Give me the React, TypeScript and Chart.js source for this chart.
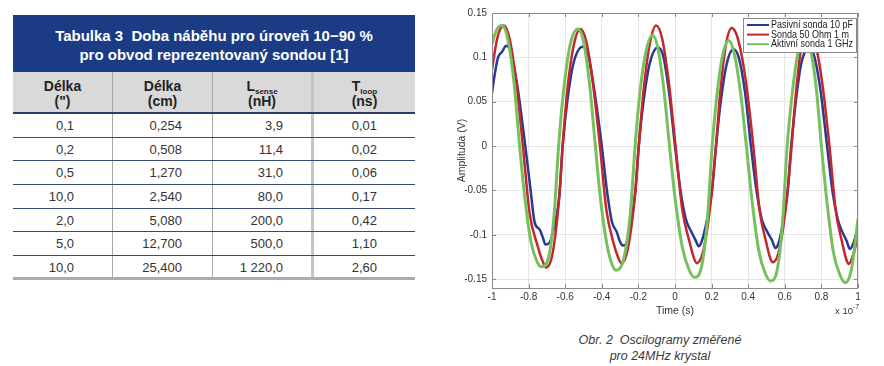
import React, { useEffect, useRef } from "react";
import { Chart, registerables } from "chart.js";

Chart.register(...registerables);

// ---------- table data ----------
const tableTitle = ["Tabulka 3  Doba náběhu pro úroveň 10−90 %", "pro obvod reprezentovaný sondou [1]"];
const colLengthIn = ["0,1", "0,2", "0,5", "10,0", "2,0", "5,0", "10,0"];
const colLengthCm = ["0,254", "0,508", "1,270", "2,540", "5,080", "12,700", "25,400"];
const colLsense = ["3,9", "11,4", "31,0", "80,0", "200,0", "500,0", "1 220,0"];
const colTloop = ["0,01", "0,02", "0,06", "0,17", "0,42", "1,10", "2,60"];

// ---------- chart data (time in 1e-7 s, amplitude in V) ----------
const seriesLabels = ["Pasivní sonda 10 pF", "Sonda 50 Ohm 1 m", "Aktivní sonda 1 GHz"];

const bluePoints: [number, number][] = [
  [-1, 0.06], [-0.985, 0.081], [-0.967, 0.1], [-0.946, 0.106], [-0.922, 0.113], [-0.895, 0.104], [-0.858, 0.063],
  [-0.818, 0], [-0.79, -0.048], [-0.767, -0.086], [-0.74, -0.094], [-0.722, -0.103], [-0.708, -0.111], [-0.686, -0.109],
  [-0.668, -0.098], [-0.632, -0.056], [-0.614, 0], [-0.59, 0.048], [-0.555, 0.093], [-0.504, 0.112], [-0.475, 0.103],
  [-0.44, 0.062], [-0.4, 0], [-0.372, -0.05], [-0.345, -0.085], [-0.318, -0.097], [-0.3, -0.108], [-0.285, -0.112],
  [-0.268, -0.111], [-0.255, -0.1], [-0.218, -0.054], [-0.198, 0], [-0.172, 0.05], [-0.138, 0.093], [-0.094, 0.111],
  [-0.065, 0.102], [-0.032, 0.06], [0, 0], [0.03, -0.05], [0.06, -0.083], [0.088, -0.096], [0.112, -0.106], [0.13, -0.113],
  [0.145, -0.108], [0.16, -0.097], [0.2, -0.054], [0.224, 0], [0.25, 0.05], [0.282, 0.092], [0.319, 0.109], [0.348, 0.1],
  [0.383, 0.06], [0.415, 0], [0.445, -0.05], [0.475, -0.083], [0.505, -0.097], [0.53, -0.106], [0.549, -0.115],
  [0.563, -0.111], [0.578, -0.099], [0.614, -0.054], [0.635, 0], [0.66, 0.05], [0.69, 0.093], [0.73, 0.11], [0.76, 0.102],
  [0.797, 0.06], [0.831, 0], [0.86, -0.05], [0.89, -0.083], [0.915, -0.097], [0.938, -0.107], [0.955, -0.116],
  [0.97, -0.112], [0.985, -0.103], [1, -0.094],
];

const redPoints: [number, number][] = [
  [-1, 0.086], [-0.975, 0.118], [-0.955, 0.132], [-0.936, 0.136], [-0.905, 0.122], [-0.868, 0.073], [-0.831, 0],
  [-0.795, -0.075], [-0.75, -0.113], [-0.723, -0.13], [-0.704, -0.137], [-0.668, -0.12], [-0.632, -0.056], [-0.614, 0],
  [-0.59, 0.06], [-0.555, 0.112], [-0.517, 0.132], [-0.485, 0.118], [-0.448, 0.07], [-0.41, 0], [-0.375, -0.072],
  [-0.335, -0.11], [-0.31, -0.126], [-0.293, -0.132], [-0.258, -0.116], [-0.218, -0.054], [-0.198, 0], [-0.172, 0.062],
  [-0.138, 0.115], [-0.103, 0.136], [-0.07, 0.121], [-0.034, 0.072], [0.003, 0], [0.04, -0.072], [0.082, -0.11],
  [0.103, -0.126], [0.119, -0.132], [0.158, -0.115], [0.2, -0.054], [0.224, 0], [0.248, 0.062], [0.278, 0.114],
  [0.31, 0.133], [0.345, 0.12], [0.388, 0.072], [0.428, 0], [0.462, -0.072], [0.5, -0.11], [0.52, -0.126], [0.535, -0.131],
  [0.572, -0.115], [0.614, -0.054], [0.637, 0], [0.662, 0.062], [0.692, 0.114], [0.725, 0.134], [0.762, 0.12],
  [0.804, 0.072], [0.844, 0], [0.878, -0.072], [0.915, -0.11], [0.935, -0.127], [0.949, -0.133], [0.975, -0.122],
  [1, -0.101],
];

const greenPoints: [number, number][] = [
  [-1, 0.115], [-0.975, 0.131], [-0.946, 0.136], [-0.915, 0.122], [-0.88, 0.072], [-0.849, 0], [-0.822, -0.056],
  [-0.786, -0.109], [-0.752, -0.131], [-0.729, -0.136], [-0.688, -0.123], [-0.66, -0.076], [-0.636, 0], [-0.61, 0.06],
  [-0.575, 0.112], [-0.531, 0.132], [-0.5, 0.118], [-0.467, 0.07], [-0.435, 0], [-0.408, -0.058], [-0.372, -0.111],
  [-0.343, -0.134], [-0.321, -0.14], [-0.28, -0.127], [-0.245, -0.078], [-0.218, 0], [-0.193, 0.058], [-0.16, 0.105],
  [-0.124, 0.125], [-0.095, 0.112], [-0.062, 0.066], [-0.03, 0], [0, -0.058], [0.04, -0.114], [0.078, -0.14],
  [0.106, -0.148], [0.146, -0.135], [0.177, -0.083], [0.203, 0], [0.228, 0.055], [0.258, 0.1], [0.293, 0.119],
  [0.323, 0.105], [0.357, 0.062], [0.39, 0], [0.42, -0.06], [0.458, -0.118], [0.494, -0.144], [0.522, -0.152],
  [0.56, -0.138], [0.588, -0.085], [0.613, 0], [0.64, 0.058], [0.672, 0.105], [0.71, 0.125], [0.74, 0.11],
  [0.772, 0.065], [0.8, 0], [0.83, -0.062], [0.866, -0.12], [0.903, -0.146], [0.931, -0.154], [0.965, -0.138],
  [1, -0.082],
];

const xTicks = [-1, -0.8, -0.6, -0.4, -0.2, 0, 0.2, 0.4, 0.6, 0.8, 1];
const yTicks = [-0.15, -0.1, -0.05, 0, 0.05, 0.1, 0.15];

const seriesColors = ["#2b3990", "#c1272d", "#76c15d"];
const FONT = '"Liberation Sans", Arial, sans-serif';

const framePlugin = {
  id: "matlabFrame",
  afterDatasetsDraw(chart: any) {
    const { ctx, chartArea: a, scales } = chart;
    ctx.save();
    // box
    ctx.strokeStyle = "#8a8a8a";
    ctx.lineWidth = 1;
    ctx.strokeRect(Math.round(a.left) + 0.5, Math.round(a.top) + 0.5, Math.round(a.right - a.left) - 1, Math.round(a.bottom - a.top));
    // inner tick marks
    const tl = 4;
    ctx.beginPath();
    scales.x.ticks.forEach((t: any) => {
      const px = Math.round(scales.x.getPixelForValue(t.value)) + 0.5;
      ctx.moveTo(px, a.bottom);
      ctx.lineTo(px, a.bottom - tl);
      ctx.moveTo(px, a.top);
      ctx.lineTo(px, a.top + tl);
    });
    scales.y.ticks.forEach((t: any) => {
      const py = Math.round(scales.y.getPixelForValue(t.value)) + 0.5;
      ctx.moveTo(a.left, py);
      ctx.lineTo(a.left + tl, py);
      ctx.moveTo(a.right, py);
      ctx.lineTo(a.right - tl, py);
    });
    ctx.stroke();

    // legend box (inside, top-right)
    const bw = 113, bh = 34;
    const bx = Math.round(a.right) - 2 - bw;
    const by = Math.round(a.top) + 5;
    ctx.fillStyle = "#ffffff";
    ctx.fillRect(bx, by, bw, bh);
    ctx.strokeStyle = "#8a8a8a";
    ctx.strokeRect(bx + 0.5, by + 0.5, bw, bh);
    ctx.font = "11px " + FONT;
    ctx.textBaseline = "middle";
    ctx.textAlign = "left";
    const w0 = ctx.measureText(seriesLabels[0]).width;
    const s = Math.min(1, 82 / w0);
    seriesLabels.forEach((lab, i) => {
      const yy = by + 7 + i * 9.6;
      ctx.strokeStyle = seriesColors[i];
      ctx.lineWidth = 2;
      ctx.beginPath();
      ctx.moveTo(bx + 4, yy);
      ctx.lineTo(bx + 26, yy);
      ctx.stroke();
      ctx.fillStyle = "#1a1a1a";
      const w = ctx.measureText(lab).width;
      ctx.fillText(lab, bx + 28, yy, w * s);
    });

    // exponent label
    ctx.fillStyle = "#333";
    ctx.textAlign = "left";
    ctx.font = "9.5px " + FONT;
    ctx.fillText("x 10", Math.round(a.right) - 23, Math.round(a.bottom) + 23);
    ctx.font = "7px " + FONT;
    ctx.fillText("-7", Math.round(a.right) - 5, Math.round(a.bottom) + 19);
    ctx.restore();
  },
};

function OscChart() {
  const ref = useRef<HTMLCanvasElement | null>(null);
  useEffect(() => {
    if (!ref.current) return;
    Chart.defaults.font.family = FONT;
    const all = [bluePoints, redPoints, greenPoints];
    const chart = new Chart(ref.current, {
      type: "line",
      data: {
        datasets: all.map((pts, i) => ({
          label: seriesLabels[i],
          data: pts.map(([x, y]) => ({ x, y })),
          borderColor: seriesColors[i],
          backgroundColor: seriesColors[i],
          borderWidth: i === 2 ? 3 : 2.5,
          pointRadius: 0,
          cubicInterpolationMode: "monotone" as const,
          fill: false,
          order: 2 - i,
        })),
      },
      options: {
        animation: false,
        responsive: false,
        layout: { padding: { top: 13, right: 22, bottom: 12, left: 0 } },
        plugins: { legend: { display: false }, tooltip: { enabled: false } },
        scales: {
          x: {
            type: "linear",
            min: -1,
            max: 1,
            afterBuildTicks: (sc: any) => {
              sc.ticks = xTicks.map((v) => ({ value: v }));
            },
            afterFit: (sc: any) => {
              sc.height = 30;
            },
            grid: { color: "#e6e6e6", drawTicks: false },
            border: { display: false },
            ticks: {
              padding: 3,
              color: "#333",
              font: { size: 10 },
              maxRotation: 0,
              autoSkip: false,
              callback: (v: any) => String(v),
            },
            title: { display: true, text: "Time (s)", color: "#333", font: { size: 10.5 }, padding: { top: 0, bottom: 1 } },
          },
          y: {
            type: "linear",
            min: -0.16,
            max: 0.15,
            afterBuildTicks: (sc: any) => {
              sc.ticks = yTicks.map((v) => ({ value: v }));
            },
            afterFit: (sc: any) => {
              sc.width = 52;
            },
            grid: { color: "#e6e6e6", drawTicks: false },
            border: { display: false },
            ticks: {
              padding: 5,
              color: "#333",
              font: { size: 10 },
              autoSkip: false,
              callback: (v: any) => String(v),
            },
            title: { display: true, text: "Amplituda (V)", color: "#333", font: { size: 10.5 }, padding: { top: 16, bottom: 0 } },
          },
        },
      },
      plugins: [framePlugin],
    } as any);
    return () => chart.destroy();
  }, []);
  return <canvas ref={ref} width={440} height={330} style={{ position: "absolute", left: 440, top: 0 }} />;
}

const colW = [100, 100, 101, 101];
const padR = [38, 30, 28, 38];
const vBorder = ["1.5px solid #a8a8a8", "1.5px solid #a8a8a8", "3px solid #c4c4c4", "none"];

function DataTable() {
  const rows = colLengthIn.map((_, i) => [colLengthIn[i], colLengthCm[i], colLsense[i], colTloop[i]]);
  const subStyle: React.CSSProperties = { fontSize: 8, verticalAlign: "-3px", lineHeight: 0 };
  const headers: React.ReactNode[][] = [
    ["Délka", '(")'],
    ["Délka", "(cm)"],
    [<span key="l">L<span style={subStyle}>sense</span></span>, "(nH)"],
    [<span key="t">T<span style={subStyle}>loop</span></span>, "(ns)"],
  ];
  return (
    <div style={{ position: "absolute", left: 13, top: 15, width: 402, fontFamily: FONT }}>
      <div
        style={{
          height: 57,
          boxSizing: "border-box",
          paddingTop: 10.5,
          background: "#1b3b84",
          color: "#fff",
          fontWeight: "bold",
          fontSize: 15,
          lineHeight: "19px",
          textAlign: "center",
          whiteSpace: "pre",
        }}
      >
        {tableTitle[0]}
        <br />
        {tableTitle[1]}
      </div>
      <div style={{ display: "flex", height: 42, boxSizing: "border-box", background: "#d9d9d9", borderBottom: "2px solid #2c3c68" }}>
        {headers.map((h, c) => (
          <div
            key={c}
            style={{
              width: colW[c],
              boxSizing: "border-box",
              borderRight: vBorder[c],
              textAlign: "center",
              fontWeight: "bold",
              fontSize: 14,
              lineHeight: "15px",
              paddingTop: 7,
              color: "#222",
            }}
          >
            {h[0]}
            <br />
            {h[1]}
          </div>
        ))}
      </div>
      {rows.map((r, i) => (
        <div
          key={i}
          style={{
            display: "flex",
            height: 23.7,
            boxSizing: "border-box",
            borderBottom: i === rows.length - 1 ? "3px solid #a9abb6" : "1.5px solid #3a4a72",
          }}
        >
          {r.map((v, c) => (
            <div
              key={c}
              style={{
                width: colW[c],
                boxSizing: "border-box",
                borderRight: vBorder[c],
                textAlign: "right",
                paddingRight: padR[c],
                fontSize: 13,
                lineHeight: "23px",
                color: "#333",
                whiteSpace: "pre",
              }}
            >
              {v}
            </div>
          ))}
        </div>
      ))}
    </div>
  );
}

export default function App() {
  return (
    <div style={{ position: "absolute", left: 0, top: 0, width: 884, height: 366, background: "#fff", overflow: "hidden" }}>
      <DataTable />
      <OscChart />
      <div
        style={{
          position: "absolute",
          left: 540,
          top: 332,
          width: 240,
          textAlign: "center",
          fontFamily: FONT,
          fontStyle: "italic",
          fontSize: 12.5,
          lineHeight: "16px",
          color: "#3a3a3a",
          whiteSpace: "pre",
        }}
      >
        {"Obr. 2  Oscilogramy změřené"}
        <br />
        {"pro 24MHz krystal"}
      </div>
    </div>
  );
}
